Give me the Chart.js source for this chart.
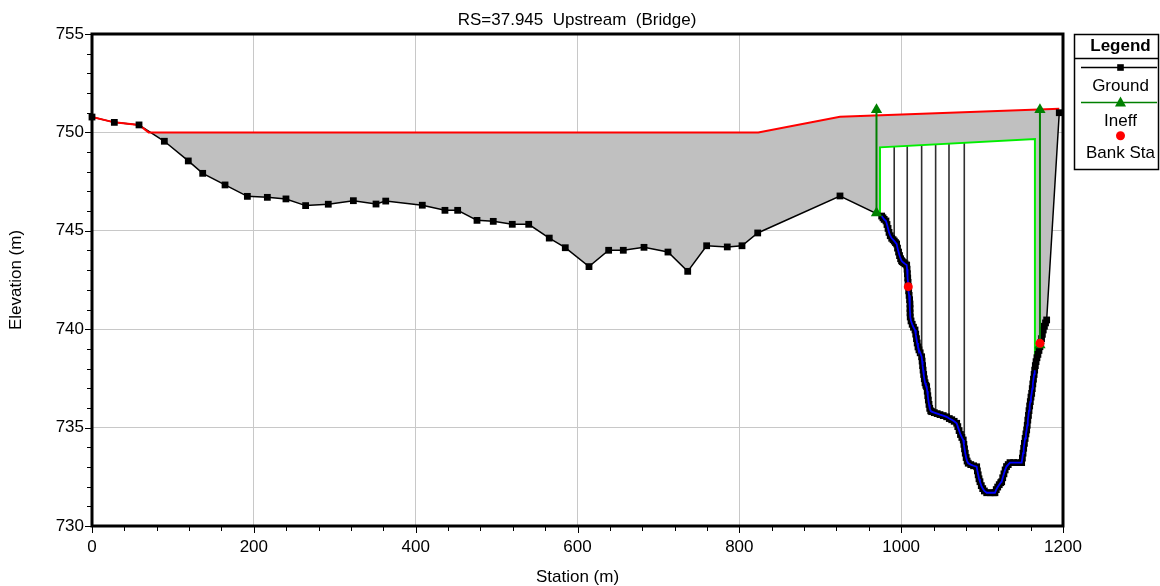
<!DOCTYPE html>
<html><head><meta charset="utf-8">
<script src="https://cdn.jsdelivr.net/npm/chart.js@4/dist/chart.umd.min.js"></script>
<style>html,body{margin:0;padding:0;background:#fff}canvas{display:block}</style>
</head><body>
<canvas id="c" width="1160" height="586"></canvas>
<script>
// ---------- text ----------
const chartTitle = 'RS=37.945  Upstream  (Bridge)';
const xAxisTitle = 'Station (m)';
const yAxisTitle = 'Elevation (m)';
const legendTitle = 'Legend';
const seriesNames = ['Ground', 'Ineff', 'Bank Sta'];

// ---------- ticks ----------
const xTickValues = [0, 200, 400, 600, 800, 1000, 1200];
const yTickValues = [730, 735, 740, 745, 750, 755];
const xMinorStep = 40;
const yMinorStep = 1;

// ---------- ground ----------
const groundStation = [
  0, 27.6, 58.1, 89.4, 119, 136.8, 164.4, 192, 216.7, 239.7, 264, 292, 323, 351, 363,
  408.2, 436.2, 451.9, 475.8, 495.9, 519.4, 539.7, 565.1, 584.9, 614.2, 638.5, 656.6,
  682.2, 711.8, 736.2, 759.6, 785.1, 803.3, 822.7, 924.4,
  975.9, 977.5, 979.0, 981.2, 982.5, 983.8, 985.0, 986.5, 988.3, 990.0, 991.5, 993.0,
  994.4, 995.5, 996.8, 998.0, 999.3, 1000.5, 1001.4, 1003.0, 1004.8, 1006.8, 1007.3, 1007.7,
  1008.1, 1008.5, 1008.8, 1009.3, 1009.8, 1010.4, 1010.9, 1010.9, 1011.0, 1011.2, 1012.2, 1013.6,
  1015.2, 1017.1, 1018.0, 1018.9, 1019.8, 1020.8, 1022.0, 1023.5, 1025.3, 1025.9, 1026.5, 1027.1,
  1027.8, 1028.6, 1029.5, 1030.5, 1031.5, 1032.2, 1032.9, 1033.6, 1034.4, 1035.3, 1036.5, 1037.7,
  1041.0, 1044.5, 1048.0, 1052.0, 1056.2, 1059.5, 1062.5, 1065.5, 1068.6, 1070.0, 1071.6, 1073.3,
  1075.0, 1076.7, 1077.5, 1078.3, 1079.2, 1080.3, 1081.5, 1082.9, 1086.0, 1089.5, 1093.3, 1094.2,
  1095.2, 1096.2, 1097.4, 1099.0, 1100.8, 1102.8, 1105.7, 1110.0, 1114.0, 1115.9, 1117.5, 1119.3,
  1121.2, 1123.0, 1124.2, 1125.5, 1127.0, 1128.5, 1130.2, 1132.3, 1134.5, 1139.0, 1144.0, 1148.9,
  1149.8, 1150.6, 1151.4, 1152.3, 1153.2, 1154.2, 1155.1, 1155.8, 1156.5, 1157.3, 1158.0, 1158.8,
  1159.6, 1160.4, 1161.3, 1162.0, 1162.7, 1163.5, 1164.3, 1165.0, 1165.8, 1166.7, 1167.8, 1169.0,
  1170.3, 1171.5, 1172.5, 1173.5, 1174.5, 1175.6, 1177.0, 1178.4, 1179.8, 1195.4
];
const groundElev = [
  750.78, 750.51, 750.38, 749.55, 748.55, 747.92, 747.33, 746.75, 746.70, 746.62, 746.28, 746.35, 746.53, 746.36, 746.51,
  746.30, 746.04, 746.04, 745.53, 745.48, 745.33, 745.33, 744.63, 744.14, 743.18, 744.01, 744.01,
  744.16, 743.92, 742.94, 744.24, 744.18, 744.24, 744.89, 746.77,
  745.75, 745.66, 745.58, 745.50, 745.32, 745.12, 744.92, 744.75, 744.62, 744.55, 744.48, 744.40,
  744.33, 744.12, 743.92, 743.74, 743.58, 743.48, 743.43, 743.38, 743.32, 743.26, 743.05, 742.82,
  742.60, 742.38, 742.16, 741.95, 741.72, 741.50, 741.28, 741.05, 740.83, 740.62, 740.42, 740.25,
  740.10, 739.96, 739.75, 739.52, 739.30, 739.10, 738.95, 738.80, 738.60, 738.38, 738.15, 737.92,
  737.70, 737.48, 737.28, 737.15, 737.08, 736.85, 736.62, 736.40, 736.18, 735.98, 735.85, 735.81,
  735.76, 735.71, 735.66, 735.61, 735.55, 735.46, 735.40, 735.32, 735.22, 735.05, 734.85, 734.65,
  734.50, 734.37, 734.15, 733.92, 733.70, 733.48, 733.30, 733.19, 733.12, 733.06, 733.01, 732.80,
  732.60, 732.40, 732.25, 732.05, 731.90, 731.78, 731.69, 731.69, 731.69, 731.69, 731.85, 731.98,
  732.10, 732.20, 732.25, 732.45, 732.65, 732.85, 733.02, 733.12, 733.22, 733.22, 733.22, 733.22,
  733.45, 733.70, 733.95, 734.20, 734.45, 734.68, 734.88, 735.12, 735.38, 735.62, 735.86, 736.10,
  736.32, 736.55, 736.74, 736.98, 737.22, 737.46, 737.70, 737.92, 738.15, 738.35, 738.55, 738.72,
  738.92, 739.11, 739.32, 739.52, 739.74, 739.96, 740.15, 740.32, 740.47, 751.00
];

// ---------- bridge deck (top, red) ----------
const deckStation = [0, 27.6, 58.1, 70, 823.4, 924.4, 1195.4];
const deckElev = [750.78, 750.51, 750.38, 750.0, 750.0, 750.80, 751.20];

// ---------- bridge opening low chord (light green) ----------
const lowChordStation = [973.8, 973.8, 1165.3, 1165.3];
const lowChordElev = [745.80, 749.24, 749.66, 738.30];

// ---------- piers ----------
const pierStation = [991.4, 1007.5, 1025.3, 1042.6, 1059.1, 1078.0];
const pierTop = [749.28, 749.31, 749.35, 749.39, 749.43, 749.47];
const pierBottom = [744.45, 743.20, 738.60, 735.75, 735.50, 734.50];

// ---------- ineffective flow ----------
const ineffStation = [969.5, 1171.5];
const ineffTop = [751.15, 751.15];
const ineffBottom = [745.90, 739.20];

// ---------- bank stations ----------
const bankStation = [1008.8, 1171.5];
const bankElev = [742.16, 739.28];

// ---------- build datasets ----------
const pts = (xs, ys) => xs.map((v, i) => ({ x: v, y: ys[i] }));
const groundPts = pts(groundStation, groundElev);
const deckPts = pts(deckStation, deckElev);
const lowChordPts = pts(lowChordStation, lowChordElev);
const openingTopPts = lowChordPts.slice(1, 3);
const bridgeGroundPts = groundPts.filter(p => p.x >= lowChordStation[0] && p.x <= lowChordStation[3]);
const pierPts = [];
pierStation.forEach((s, i) => { pierPts.push({ x: s, y: pierTop[i] }, { x: s, y: pierBottom[i] }, { x: s, y: null }); });
const ineffPts = [];
ineffStation.forEach((s, i) => { ineffPts.push({ x: s, y: ineffBottom[i] }, { x: s, y: ineffTop[i] }, { x: s, y: null }); });
const bankPts = pts(bankStation, bankElev);

const FONT = '"Liberation Sans", Arial, sans-serif';
const FS = 17;
const GROUND_IDX = 2;

const datasets = [
  { label: 'deckFill', data: deckPts, borderWidth: 0, pointRadius: 0, fill: GROUND_IDX, backgroundColor: '#c0c0c0', order: 9 },
  { label: 'openingFill', data: openingTopPts, borderWidth: 0, pointRadius: 0, fill: GROUND_IDX, backgroundColor: '#ffffff', order: 8 },
  { label: 'groundLine', data: groundPts, borderColor: '#000', borderWidth: 1.5, pointRadius: 0, fill: false, order: 5 },
  { label: 'piers', data: pierPts, borderColor: '#303030', borderWidth: 1.6, pointRadius: 0, fill: false, spanGaps: false, order: 7 },
  { label: 'lowChord', data: lowChordPts, borderColor: '#00ee00', borderWidth: 2, pointRadius: 0, fill: false, order: 6 },
  { label: 'deckLine', data: deckPts, borderColor: '#ff0000', borderWidth: 2, pointRadius: 0, fill: false, order: 4 },
  { label: seriesNames[0], data: groundPts, showLine: false, pointStyle: 'rect', pointRadius: 4.8, pointBackgroundColor: '#000', pointBorderWidth: 0, fill: false, order: 3.5, clip: false },
  { label: 'bridgeGround', data: bridgeGroundPts, borderColor: '#0000ff', borderWidth: 1.8, pointRadius: 0, fill: false, order: 3 },
  { label: seriesNames[1], data: ineffPts, borderColor: '#008000', borderWidth: 2, pointStyle: 'triangle', pointRadius: 6.5, pointBackgroundColor: '#008000', pointBorderColor: '#008000', pointBorderWidth: 0, fill: false, spanGaps: false, order: 2, clip: false },
  { label: seriesNames[2], data: bankPts, showLine: false, pointStyle: 'circle', pointRadius: 4.5, pointBackgroundColor: '#ff0000', pointBorderWidth: 0, fill: false, order: 1 }
];

const decor = {
  id: 'decor',
  afterDraw(chart) {
    const { ctx, chartArea: a, scales: { x, y } } = chart;
    ctx.save();
    const seg = (x1, y1, x2, y2) => { ctx.beginPath(); ctx.moveTo(x1, y1); ctx.lineTo(x2, y2); ctx.stroke(); };
    // tick marks
    ctx.strokeStyle = '#000'; ctx.lineWidth = 1;
    for (let v = x.min; v <= x.max; v += xMinorStep) {
      const px = Math.round(x.getPixelForValue(v)) + 0.5;
      const len = xTickValues.includes(v) ? 7 : 5;
      seg(px, a.bottom, px, a.bottom + len);
    }
    for (let v = y.min; v <= y.max; v += yMinorStep) {
      const py = Math.round(y.getPixelForValue(v)) + 0.5;
      const len = yTickValues.includes(v) ? 7 : 5;
      seg(a.left - len, py, a.left, py);
    }
    // frame
    ctx.lineWidth = 3; ctx.strokeStyle = '#000';
    ctx.strokeRect(a.left, a.top, a.right - a.left, a.bottom - a.top);
    // titles
    ctx.fillStyle = '#000';
    ctx.font = FS + 'px ' + FONT; ctx.textAlign = 'center'; ctx.textBaseline = 'middle';
    ctx.fillText(chartTitle, 577, 20);
    ctx.fillText(xAxisTitle, (a.left + a.right) / 2, 577);
    ctx.save(); ctx.translate(16, (a.top + a.bottom) / 2); ctx.rotate(-Math.PI / 2);
    ctx.fillText(yAxisTitle, 0, 0); ctx.restore();
    // legend
    const L = 1074.5, T = 34.5, W = 84, H = 135, cx = 1120.5;
    ctx.lineWidth = 1.5; ctx.strokeStyle = '#000';
    ctx.strokeRect(L, T, W, H);
    seg(L, 58.5, L + W, 58.5);
    ctx.font = 'bold ' + FS + 'px ' + FONT;
    ctx.fillText(legendTitle, cx, 46);
    ctx.font = FS + 'px ' + FONT;
    // Ground
    ctx.lineWidth = 1.5; ctx.strokeStyle = '#000'; seg(1081, 67.5, 1157, 67.5);
    ctx.fillStyle = '#000'; ctx.fillRect(cx - 3.3, 67.5 - 3.3, 6.6, 6.6);
    ctx.fillText(seriesNames[0], cx, 86);
    // Ineff
    ctx.strokeStyle = '#008000'; ctx.lineWidth = 1.5; seg(1081, 102.5, 1157, 102.5);
    ctx.fillStyle = '#008000'; ctx.beginPath();
    ctx.moveTo(cx, 96.5); ctx.lineTo(cx + 5.5, 106.5); ctx.lineTo(cx - 5.5, 106.5); ctx.closePath(); ctx.fill();
    ctx.fillStyle = '#000'; ctx.fillText(seriesNames[1], cx, 121.5);
    // Bank Sta
    ctx.fillStyle = '#ff0000'; ctx.beginPath(); ctx.arc(cx, 135.7, 4.5, 0, Math.PI * 2); ctx.fill();
    ctx.fillStyle = '#000'; ctx.fillText(seriesNames[2], cx, 153);
    ctx.restore();
  }
};

new Chart(document.getElementById('c'), {
  type: 'line',
  data: { datasets },
  options: {
    responsive: false,
    animation: false,
    devicePixelRatio: 1,
    layout: { padding: { top: 34, right: 97, left: 0, bottom: 0 } },
    plugins: {
      legend: { display: false },
      title: { display: false },
      tooltip: { enabled: false },
      filler: { drawTime: 'beforeDatasetsDraw', propagate: false }
    },
    elements: { line: { tension: 0 } },
    scales: {
      x: {
        type: 'linear', min: 0, max: 1200,
        afterBuildTicks: s => { s.ticks = xTickValues.map(v => ({ value: v })); },
        afterFit: s => { s.height = 60; },
        grid: { color: '#c8c8c8', lineWidth: 1, drawTicks: false },
        border: { display: false },
        ticks: { padding: 11, color: '#000', font: { size: FS, family: FONT }, maxRotation: 0, callback: v => String(v) }
      },
      y: {
        type: 'linear', min: 730, max: 755,
        afterBuildTicks: s => { s.ticks = yTickValues.map(v => ({ value: v })); },
        afterFit: s => { s.width = 92; },
        grid: { color: '#c8c8c8', lineWidth: 1, drawTicks: false },
        border: { display: false },
        ticks: { padding: 8, color: '#000', font: { size: FS, family: FONT }, callback: v => String(v) }
      }
    }
  },
  plugins: [decor]
});
</script>
</body></html>
